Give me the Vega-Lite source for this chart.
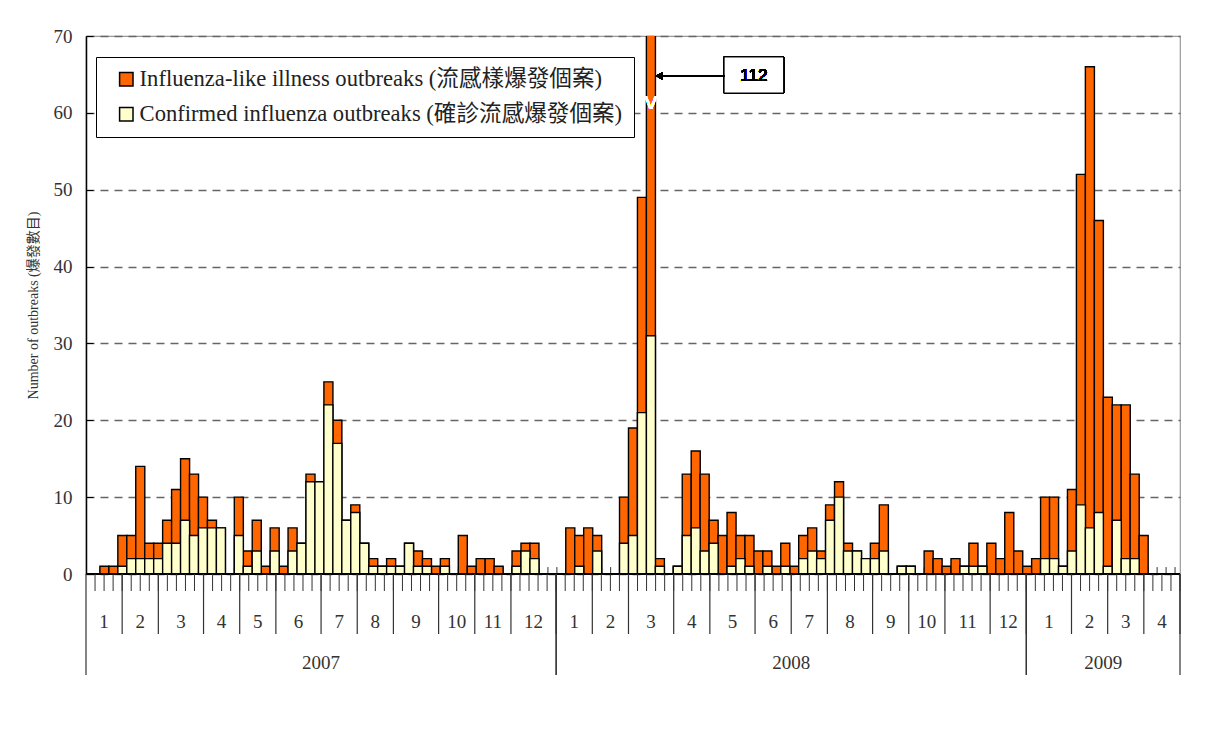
{
  "$schema": "https://vega.github.io/schema/vega-lite/v6.json",
  "padding": {"left": 25, "top": 26, "right": 0, "bottom": 0},
  "background": "white",
  "spacing": 0,
  "bounds": "flush",
  "config": {"font": "Liberation Serif", "view": {"stroke": null}},
  "datasets": {
    "weeks": [
      {"week":1,"year":2007,"month":1,"ili":0,"confirmed":0},
      {"week":2,"year":2007,"month":1,"ili":1,"confirmed":0},
      {"week":3,"year":2007,"month":1,"ili":1,"confirmed":0},
      {"week":4,"year":2007,"month":1,"ili":5,"confirmed":1},
      {"week":5,"year":2007,"month":2,"ili":5,"confirmed":2},
      {"week":6,"year":2007,"month":2,"ili":14,"confirmed":2},
      {"week":7,"year":2007,"month":2,"ili":4,"confirmed":2},
      {"week":8,"year":2007,"month":2,"ili":4,"confirmed":2},
      {"week":9,"year":2007,"month":3,"ili":7,"confirmed":4},
      {"week":10,"year":2007,"month":3,"ili":11,"confirmed":4},
      {"week":11,"year":2007,"month":3,"ili":15,"confirmed":7},
      {"week":12,"year":2007,"month":3,"ili":13,"confirmed":5},
      {"week":13,"year":2007,"month":3,"ili":10,"confirmed":6},
      {"week":14,"year":2007,"month":4,"ili":7,"confirmed":6},
      {"week":15,"year":2007,"month":4,"ili":6,"confirmed":6},
      {"week":16,"year":2007,"month":4,"ili":0,"confirmed":0},
      {"week":17,"year":2007,"month":4,"ili":10,"confirmed":5},
      {"week":18,"year":2007,"month":5,"ili":3,"confirmed":1},
      {"week":19,"year":2007,"month":5,"ili":7,"confirmed":3},
      {"week":20,"year":2007,"month":5,"ili":1,"confirmed":0},
      {"week":21,"year":2007,"month":5,"ili":6,"confirmed":3},
      {"week":22,"year":2007,"month":6,"ili":1,"confirmed":0},
      {"week":23,"year":2007,"month":6,"ili":6,"confirmed":3},
      {"week":24,"year":2007,"month":6,"ili":4,"confirmed":4},
      {"week":25,"year":2007,"month":6,"ili":13,"confirmed":12},
      {"week":26,"year":2007,"month":6,"ili":12,"confirmed":12},
      {"week":27,"year":2007,"month":7,"ili":25,"confirmed":22},
      {"week":28,"year":2007,"month":7,"ili":20,"confirmed":17},
      {"week":29,"year":2007,"month":7,"ili":7,"confirmed":7},
      {"week":30,"year":2007,"month":7,"ili":9,"confirmed":8},
      {"week":31,"year":2007,"month":8,"ili":4,"confirmed":4},
      {"week":32,"year":2007,"month":8,"ili":2,"confirmed":1},
      {"week":33,"year":2007,"month":8,"ili":1,"confirmed":1},
      {"week":34,"year":2007,"month":8,"ili":2,"confirmed":1},
      {"week":35,"year":2007,"month":9,"ili":1,"confirmed":1},
      {"week":36,"year":2007,"month":9,"ili":4,"confirmed":4},
      {"week":37,"year":2007,"month":9,"ili":3,"confirmed":1},
      {"week":38,"year":2007,"month":9,"ili":2,"confirmed":1},
      {"week":39,"year":2007,"month":9,"ili":1,"confirmed":0},
      {"week":40,"year":2007,"month":10,"ili":2,"confirmed":1},
      {"week":41,"year":2007,"month":10,"ili":0,"confirmed":0},
      {"week":42,"year":2007,"month":10,"ili":5,"confirmed":0},
      {"week":43,"year":2007,"month":10,"ili":1,"confirmed":0},
      {"week":44,"year":2007,"month":11,"ili":2,"confirmed":0},
      {"week":45,"year":2007,"month":11,"ili":2,"confirmed":0},
      {"week":46,"year":2007,"month":11,"ili":1,"confirmed":0},
      {"week":47,"year":2007,"month":11,"ili":0,"confirmed":0},
      {"week":48,"year":2007,"month":12,"ili":3,"confirmed":1},
      {"week":49,"year":2007,"month":12,"ili":4,"confirmed":3},
      {"week":50,"year":2007,"month":12,"ili":4,"confirmed":2},
      {"week":51,"year":2007,"month":12,"ili":0,"confirmed":0},
      {"week":52,"year":2007,"month":12,"ili":0,"confirmed":0},
      {"week":53,"year":2008,"month":1,"ili":0,"confirmed":0},
      {"week":54,"year":2008,"month":1,"ili":6,"confirmed":0},
      {"week":55,"year":2008,"month":1,"ili":5,"confirmed":1},
      {"week":56,"year":2008,"month":1,"ili":6,"confirmed":0},
      {"week":57,"year":2008,"month":2,"ili":5,"confirmed":3},
      {"week":58,"year":2008,"month":2,"ili":0,"confirmed":0},
      {"week":59,"year":2008,"month":2,"ili":0,"confirmed":0},
      {"week":60,"year":2008,"month":2,"ili":10,"confirmed":4},
      {"week":61,"year":2008,"month":3,"ili":19,"confirmed":5},
      {"week":62,"year":2008,"month":3,"ili":49,"confirmed":21},
      {"week":63,"year":2008,"month":3,"ili":112,"confirmed":31},
      {"week":64,"year":2008,"month":3,"ili":2,"confirmed":1},
      {"week":65,"year":2008,"month":3,"ili":0,"confirmed":0},
      {"week":66,"year":2008,"month":4,"ili":1,"confirmed":1},
      {"week":67,"year":2008,"month":4,"ili":13,"confirmed":5},
      {"week":68,"year":2008,"month":4,"ili":16,"confirmed":6},
      {"week":69,"year":2008,"month":4,"ili":13,"confirmed":3},
      {"week":70,"year":2008,"month":5,"ili":7,"confirmed":4},
      {"week":71,"year":2008,"month":5,"ili":5,"confirmed":0},
      {"week":72,"year":2008,"month":5,"ili":8,"confirmed":1},
      {"week":73,"year":2008,"month":5,"ili":5,"confirmed":2},
      {"week":74,"year":2008,"month":5,"ili":5,"confirmed":1},
      {"week":75,"year":2008,"month":6,"ili":3,"confirmed":0},
      {"week":76,"year":2008,"month":6,"ili":3,"confirmed":1},
      {"week":77,"year":2008,"month":6,"ili":1,"confirmed":0},
      {"week":78,"year":2008,"month":6,"ili":4,"confirmed":1},
      {"week":79,"year":2008,"month":7,"ili":1,"confirmed":0},
      {"week":80,"year":2008,"month":7,"ili":5,"confirmed":2},
      {"week":81,"year":2008,"month":7,"ili":6,"confirmed":3},
      {"week":82,"year":2008,"month":7,"ili":3,"confirmed":2},
      {"week":83,"year":2008,"month":8,"ili":9,"confirmed":7},
      {"week":84,"year":2008,"month":8,"ili":12,"confirmed":10},
      {"week":85,"year":2008,"month":8,"ili":4,"confirmed":3},
      {"week":86,"year":2008,"month":8,"ili":3,"confirmed":3},
      {"week":87,"year":2008,"month":8,"ili":2,"confirmed":2},
      {"week":88,"year":2008,"month":9,"ili":4,"confirmed":2},
      {"week":89,"year":2008,"month":9,"ili":9,"confirmed":3},
      {"week":90,"year":2008,"month":9,"ili":0,"confirmed":0},
      {"week":91,"year":2008,"month":9,"ili":1,"confirmed":1},
      {"week":92,"year":2008,"month":10,"ili":1,"confirmed":1},
      {"week":93,"year":2008,"month":10,"ili":0,"confirmed":0},
      {"week":94,"year":2008,"month":10,"ili":3,"confirmed":0},
      {"week":95,"year":2008,"month":10,"ili":2,"confirmed":0},
      {"week":96,"year":2008,"month":11,"ili":1,"confirmed":0},
      {"week":97,"year":2008,"month":11,"ili":2,"confirmed":0},
      {"week":98,"year":2008,"month":11,"ili":1,"confirmed":1},
      {"week":99,"year":2008,"month":11,"ili":4,"confirmed":1},
      {"week":100,"year":2008,"month":11,"ili":1,"confirmed":1},
      {"week":101,"year":2008,"month":12,"ili":4,"confirmed":0},
      {"week":102,"year":2008,"month":12,"ili":2,"confirmed":0},
      {"week":103,"year":2008,"month":12,"ili":8,"confirmed":0},
      {"week":104,"year":2008,"month":12,"ili":3,"confirmed":0},
      {"week":105,"year":2009,"month":1,"ili":1,"confirmed":0},
      {"week":106,"year":2009,"month":1,"ili":2,"confirmed":0},
      {"week":107,"year":2009,"month":1,"ili":10,"confirmed":2},
      {"week":108,"year":2009,"month":1,"ili":10,"confirmed":2},
      {"week":109,"year":2009,"month":1,"ili":1,"confirmed":1},
      {"week":110,"year":2009,"month":2,"ili":11,"confirmed":3},
      {"week":111,"year":2009,"month":2,"ili":52,"confirmed":9},
      {"week":112,"year":2009,"month":2,"ili":66,"confirmed":6},
      {"week":113,"year":2009,"month":2,"ili":46,"confirmed":8},
      {"week":114,"year":2009,"month":3,"ili":23,"confirmed":1},
      {"week":115,"year":2009,"month":3,"ili":22,"confirmed":7},
      {"week":116,"year":2009,"month":3,"ili":22,"confirmed":2},
      {"week":117,"year":2009,"month":3,"ili":13,"confirmed":2},
      {"week":118,"year":2009,"month":4,"ili":5,"confirmed":0},
      {"week":119,"year":2009,"month":4,"ili":0,"confirmed":0},
      {"week":120,"year":2009,"month":4,"ili":0,"confirmed":0},
      {"week":121,"year":2009,"month":4,"ili":0,"confirmed":0}
    ]
  },
  "vconcat": [
    {
      "width": 1094,
      "height": 538,
      "view": {"stroke": "#999", "strokeWidth": 1.2},
      "data": {"name": "weeks"},
      "layer": [
        {
          "mark": {"type": "rule", "xOffset": 4.52, "color": "#333", "strokeWidth": 1},
          "encoding": {
            "x": {"field": "week", "type": "quantitative",
              "scale": {"domain": [0.5, 121.5], "nice": false, "zero": false}, "axis": null},
            "y": {"datum": 0, "type": "quantitative",
              "scale": {"domain": [0, 70], "nice": false},
              "axis": {"values": [0,10,20,30,40,50,60,70], "title": "Number of outbreaks (爆發數目)",
                "titleFont": "Liberation Serif, Noto Sans CJK TC", "titleFontSize": 14, "titleFontWeight": "normal", "titleColor": "#333", "titlePadding": 13,
                "labelFont": "Liberation Serif", "labelFontSize": 19, "labelColor": "#333", "labelPadding": 21,
                "tickSize": -7, "tickColor": "black", "domainColor": "black", "domainWidth": 1.5,
                "grid": true, "gridColor": "#666", "gridDash": [8, 6], "gridWidth": 1.3}},
            "y2": {"datum": 0.9}
          }
        },
        {
          "mark": {"type": "bar", "orient": "vertical", "clip": true, "width": 9.04, "stroke": "black", "strokeWidth": 1.4},
          "encoding": {
            "x": {"field": "week", "type": "quantitative"},
            "y": {"field": "ili", "type": "quantitative", "stack": null},
            "color": {"datum": "Influenza-like illness outbreaks (流感樣爆發個案)", "type": "nominal",
              "scale": {"domain": ["Influenza-like illness outbreaks (流感樣爆發個案)", "Confirmed influenza outbreaks (確診流感爆發個案)"], "range": ["#FF6600", "#FFFFCC"]},
              "legend": {"orient": "none", "legendX": 10, "legendY": 21, "title": null, "strokeColor": "black", "fillColor": "white", "padding": 11,
                "symbolType": "square", "symbolSize": 180, "symbolStrokeColor": "black", "symbolStrokeWidth": 1.5, "symbolOffset": 8,
                "labelFont": "Liberation Serif, Noto Sans CJK TC", "labelFontSize": 22.6, "labelColor": "#222", "labelLimit": 0, "labelOffset": 2, "rowPadding": 12}}
          }
        },
        {
          "mark": {"type": "bar", "orient": "vertical", "clip": true, "width": 9.04, "stroke": "black", "strokeWidth": 1.4},
          "encoding": {
            "x": {"field": "week", "type": "quantitative"},
            "y": {"field": "confirmed", "type": "quantitative", "stack": null},
            "color": {"datum": "Confirmed influenza outbreaks (確診流感爆發個案)", "type": "nominal"}
          }
        },
        {
          "mark": {"type": "rule", "color": "black", "strokeWidth": 1.5},
          "encoding": {"y": {"datum": 0, "type": "quantitative"}}
        },
        {
          "mark": {"type": "text", "font": "Liberation Sans", "fontSize": 19, "fill": "white"},
          "encoding": {"x": {"datum": 63, "type": "quantitative"}, "y": {"datum": 61.3, "type": "quantitative"}, "text": {"value": "V"}}
        },
        {
          "mark": {"type": "rect", "fill": "white", "stroke": "black", "strokeWidth": 1},
          "encoding": {"x": {"datum": 71.17, "type": "quantitative"}, "x2": {"datum": 77.81}, "y": {"datum": 62.58, "type": "quantitative"}, "y2": {"datum": 67.27}}
        },
        {
          "mark": {"type": "text", "font": "Liberation Sans", "fontSize": 17, "fontWeight": "normal", "fill": "black"},
          "encoding": {"x": {"datum": 74.49, "type": "quantitative"}, "y": {"datum": 64.8, "type": "quantitative"}, "text": {"value": "112"}}
        },
        {
          "mark": {"type": "rule", "color": "black", "strokeWidth": 1},
          "encoding": {"x": {"datum": 63.5, "type": "quantitative"}, "x2": {"datum": 71.17}, "y": {"datum": 64.8, "type": "quantitative"}}
        },
        {
          "mark": {"type": "point", "shape": "triangle-left", "filled": true, "color": "black", "size": 60, "opacity": 1},
          "encoding": {"x": {"datum": 63.95, "type": "quantitative"}, "y": {"datum": 64.8, "type": "quantitative"}}
        }
      ]
    },
    {
      "width": 1094,
      "height": 101,
      "view": {"stroke": null},
      "data": {"name": "weeks"},
      "layer": [
        {
          "mark": {"type": "rule", "xOffset": 4.52, "color": "#333", "strokeWidth": 1},
          "encoding": {
            "x": {"field": "week", "type": "quantitative", "scale": {"domain": [0.5, 121.5], "nice": false, "zero": false}, "axis": null},
            "y": {"datum": 0, "type": "quantitative", "scale": {"domain": [0, 101], "reverse": true, "nice": false}, "axis": null},
            "y2": {"datum": 17}
          }
        },
        {
          "transform": [{"aggregate": [{"op": "max", "field": "week", "as": "last"}], "groupby": ["year", "month"]}],
          "mark": {"type": "rule", "xOffset": 4.52, "color": "#333", "strokeWidth": 1.2},
          "encoding": {
            "x": {"field": "last", "type": "quantitative"},
            "y": {"datum": 0, "type": "quantitative"},
            "y2": {"datum": 60}
          }
        },
        {
          "transform": [{"aggregate": [{"op": "max", "field": "week", "as": "last"}], "groupby": ["year"]}],
          "mark": {"type": "rule", "xOffset": 4.52, "color": "#333", "strokeWidth": 1.2},
          "encoding": {
            "x": {"field": "last", "type": "quantitative"},
            "y": {"datum": 0, "type": "quantitative"},
            "y2": {"datum": 101}
          }
        },
        {
          "transform": [{"aggregate": [{"op": "min", "field": "week", "as": "first"}], "groupby": ["year"]}],
          "mark": {"type": "rule", "xOffset": -4.52, "color": "#333", "strokeWidth": 1.2},
          "encoding": {
            "x": {"field": "first", "type": "quantitative"},
            "y": {"datum": 0, "type": "quantitative"},
            "y2": {"datum": 101}
          }
        },
        {
          "transform": [{"aggregate": [{"op": "mean", "field": "week", "as": "mid"}], "groupby": ["year", "month"]}],
          "mark": {"type": "text", "font": "Liberation Serif", "fontSize": 19, "color": "#333", "baseline": "middle"},
          "encoding": {
            "x": {"field": "mid", "type": "quantitative"},
            "y": {"datum": 48, "type": "quantitative"},
            "text": {"field": "month", "type": "nominal"}
          }
        },
        {
          "transform": [{"aggregate": [{"op": "mean", "field": "week", "as": "mid"}], "groupby": ["year"]}],
          "mark": {"type": "text", "font": "Liberation Serif", "fontSize": 19, "color": "#333", "baseline": "middle"},
          "encoding": {
            "x": {"field": "mid", "type": "quantitative"},
            "y": {"datum": 89, "type": "quantitative"},
            "text": {"field": "year", "type": "nominal"}
          }
        }
      ]
    }
  ]
}
